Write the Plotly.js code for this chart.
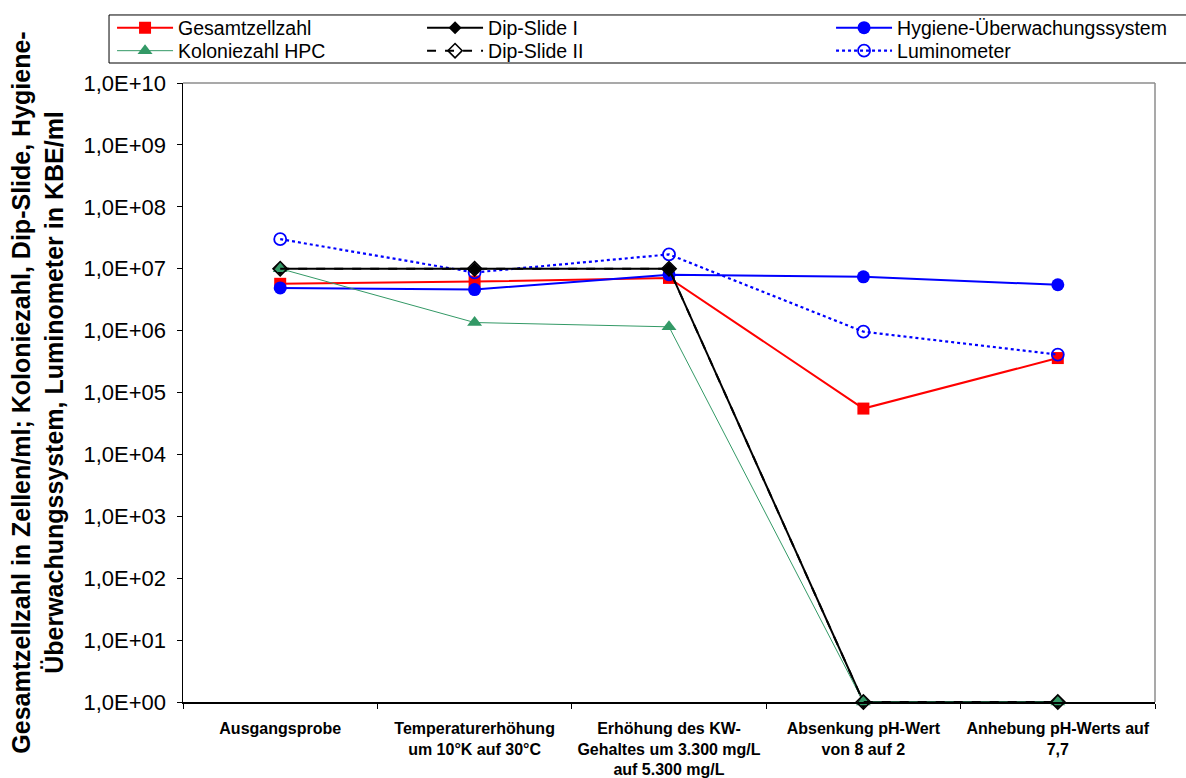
<!DOCTYPE html>
<html>
<head>
<meta charset="utf-8">
<script src="https://cdn.plot.ly/plotly-3.0.1.min.js"></script>
<style>html,body{margin:0;padding:0;background:#fff;}#chart{width:1186px;height:778px;}</style>
</head>
<body>
<div id="chart"></div>
<script>
const categories = [
  "Ausgangsprobe",
  "Temperaturerhöhung<br>um 10°K auf 30°C",
  "Erhöhung des KW-<br>Gehaltes um 3.300 mg/L<br>auf 5.300 mg/L",
  "Absenkung pH-Wert<br>von 8 auf 2",
  "Anhebung pH-Werts auf<br>7,7"
];
const gesamtzellzahl = [5.7e6, 6.2e6, 7.1e6, 5.5e4, 3.6e5];
const koloniezahlHPC = [1.0e7, 1.35e6, 1.15e6, 1, 1];
const dipSlideI = [1.0e7, 1.0e7, 1.0e7, 1, 1];
const dipSlideII = [1.0e7, 1.0e7, 1.0e7, 1, 1];
const hygiene = [4.9e6, 4.6e6, 8.0e6, 7.4e6, 5.5e6];
const luminometer = [3.0e7, 8.7e6, 1.7e7, 9.6e5, 4.1e5];
const yTickVals = [1e0,1e1,1e2,1e3,1e4,1e5,1e6,1e7,1e8,1e9,1e10];
const yTickText = ["1,0E+00","1,0E+01","1,0E+02","1,0E+03","1,0E+04","1,0E+05","1,0E+06","1,0E+07","1,0E+08","1,0E+09","1,0E+10"];

const FONT = "Liberation Sans, Arial, sans-serif";

// legend: row 1 -> legend, row 2 -> legend2 ; column widths via legendwidth
const traces = [
  {name: "Gesamtzellzahl", y: gesamtzellzahl, legend: "legend", legendrank: 1, legendwidth: 239,
   line: {color: "#FF0000", width: 2}, marker: {symbol: "square", size: 12, color: "#FF0000"}},
  {name: "Hygiene-Überwachungssystem", y: hygiene, legend: "legend", legendrank: 3,
   line: {color: "#0000FF", width: 2}, marker: {symbol: "circle", size: 13, color: "#0000FF"}},
  {name: "Luminometer", y: luminometer, legend: "legend2", legendrank: 6,
   line: {color: "#0000FF", width: 2.2, dash: "dot"}, marker: {symbol: "circle-open", size: 12, color: "#0000FF", line: {width: 1.8}}},
  {name: "Dip-Slide I", y: dipSlideI, legend: "legend", legendrank: 2, legendwidth: 338,
   line: {color: "#000000", width: 2}, marker: {symbol: "diamond", size: 10, color: "#000000"}},
  {name: "Koloniezahl HPC", y: koloniezahlHPC, legend: "legend2", legendrank: 4, legendwidth: 239,
   line: {color: "#339966", width: 1}, marker: {symbol: "triangle-up", size: 13, color: "#339966"}},
  {name: "Dip-Slide II", y: dipSlideII, legend: "legend2", legendrank: 5, legendwidth: 338,
   line: {color: "#000000", width: 2, dash: "dash"}, marker: {symbol: "diamond-open", size: 11, color: "#000000", line: {width: 1.6}}}
].map(t => Object.assign({type: "scatter", mode: "lines+markers", x: categories, cliponaxis: false}, t));

const legendBase = {
  orientation: "h", xanchor: "left", yanchor: "middle",
  x: -0.0730, itemwidth: 56,
  borderwidth: 0, bgcolor: "rgba(0,0,0,0)",
  font: {family: FONT, size: 19.5, color: "#000000"},
  tracegroupgap: 0, traceorder: "normal"
};

const layout = {
  width: 1186, height: 778,
  margin: {l: 183, r: 31, t: 83, b: 76, autoexpand: false},
  paper_bgcolor: "#ffffff", plot_bgcolor: "#ffffff",
  font: {family: FONT, size: 17, color: "#000000"},
  showlegend: true,
  legend: Object.assign({}, legendBase, {y: 1.0889}),
  legend2: Object.assign({}, legendBase, {y: 1.0517}),
  xaxis: {
    type: "category", range: [-0.5, 4.5],
    showline: true, linecolor: "#000000", linewidth: 1.5, mirror: false,
    ticks: "outside", tickson: "boundaries", ticklen: 5, tickcolor: "#000000",
    showgrid: false, zeroline: false,
    tickfont: {family: FONT, size: 16, color: "#000000", weight: "bold"},
    ticklabelstandoff: 11,
    tickangle: 0
  },
  yaxis: {
    type: "log", range: [0, 10],
    tickmode: "array", tickvals: yTickVals, ticktext: yTickText,
    showline: true, linecolor: "#000000", linewidth: 1.5,
    ticks: "outside", ticklen: 5, tickcolor: "#000000",
    showgrid: false, zeroline: false,
    tickfont: {family: FONT, size: 22, color: "#000000"},
    ticklabelstandoff: 6,
    title: {
      text: "Gesamtzellzahl in Zellen/ml; Koloniezahl, Dip-Slide, Hygiene-<br>Überwachungssystem, Luminometer in KBE/ml",
      font: {family: FONT, size: 25, color: "#000000", weight: "bold"},
      standoff: 13
    },
    automargin: false
  },
  shapes: [
    {type: "rect", xref: "paper", yref: "paper", x0: -0.0761, x1: 1.05, y0: 1.0323, y1: 1.1099,
     line: {color: "#000000", width: 1}, fillcolor: "rgba(0,0,0,0)", layer: "above"},
    {type: "line", xref: "paper", yref: "paper", x0: 0, x1: 1, y0: 1, y1: 1, line: {color: "#8c8c8c", width: 1.5}},
    {type: "line", xref: "paper", yref: "paper", x0: 1, x1: 1, y0: 0, y1: 1, line: {color: "#8c8c8c", width: 1.5}}
  ]
};

Plotly.newPlot("chart", traces, layout, {displayModeBar: false, staticPlot: true});
</script>
</body>
</html>
